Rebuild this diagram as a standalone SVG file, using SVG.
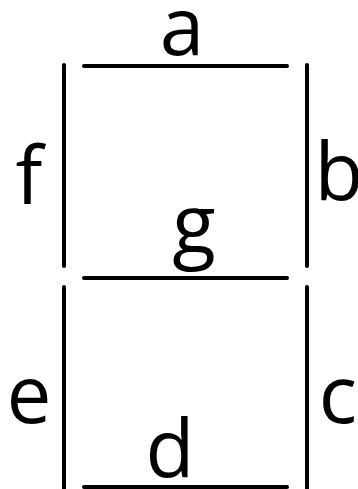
<svg xmlns="http://www.w3.org/2000/svg" width="358" height="489" viewBox="0 0 358 489">
<style>
.seg{stroke:#000;stroke-width:4;stroke-linecap:round;fill:none}
.lbl{font-family:"Open Sans","Liberation Sans",sans-serif;font-size:80px;fill:#000;text-anchor:middle}
</style>
<rect width="358" height="489" fill="#fff"/>
<g id="seg-a"><line class="seg" x1="84" y1="66" x2="287" y2="66"/><text class="lbl" x="182" y="55">a</text></g>
<g id="seg-b"><line class="seg" x1="307" y1="65" x2="307" y2="266"/><text class="lbl" x="339" y="200">b</text></g>
<g id="seg-c"><line class="seg" x1="307" y1="287" x2="307" y2="492"/><text class="lbl" x="338" y="423">c</text></g>
<g id="seg-d"><line class="seg" x1="84" y1="487" x2="287" y2="487"/><text class="lbl" x="170" y="477">d</text></g>
<g id="seg-e"><line class="seg" x1="64" y1="287" x2="64" y2="492"/><text class="lbl" x="29" y="423">e</text></g>
<g id="seg-f"><line class="seg" x1="64" y1="65" x2="64" y2="266"/><text class="lbl" x="29" y="204">f</text></g>
<g id="seg-g"><line class="seg" x1="84" y1="278" x2="287" y2="278"/><text class="lbl" x="194" y="253">g</text></g>
<g id="connectors"/>
</svg>
